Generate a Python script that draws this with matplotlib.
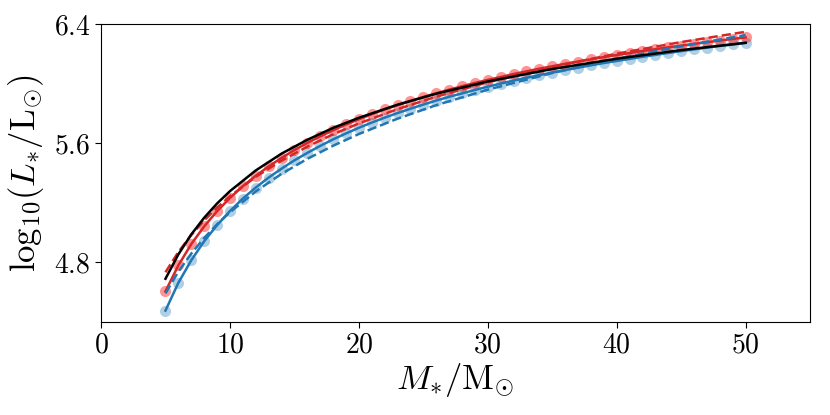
import numpy as np
import matplotlib
matplotlib.use("Agg")
import matplotlib.pyplot as plt

plt.rcParams['font.family'] = 'serif'
plt.rcParams['font.serif'] = ['cmr10']
plt.rcParams['mathtext.fontset'] = 'cm'
plt.rcParams['axes.formatter.use_mathtext'] = True

# masses of the model grid (Msun)
mass = list(range(5, 51))

# model luminosities, log10(L/Lsun)
logL_blue = [4.474, 4.661, 4.812, 4.940, 5.048, 5.143, 5.227, 5.301, 5.368, 5.428,
             5.484, 5.534, 5.581, 5.625, 5.665, 5.703, 5.738, 5.771, 5.802, 5.831,
             5.859, 5.886, 5.911, 5.934, 5.957, 5.979, 6.000, 6.020, 6.039, 6.057,
             6.074, 6.091, 6.107, 6.123, 6.138, 6.152, 6.166, 6.180, 6.193, 6.206,
             6.218, 6.230, 6.242, 6.253, 6.263, 6.274]
logL_red = [4.604, 4.778, 4.921, 5.040, 5.142, 5.231, 5.310, 5.380, 5.443, 5.500,
            5.553, 5.601, 5.645, 5.686, 5.725, 5.760, 5.794, 5.826, 5.855, 5.883,
            5.910, 5.935, 5.959, 5.982, 6.004, 6.025, 6.044, 6.064, 6.082, 6.100,
            6.116, 6.133, 6.148, 6.163, 6.178, 6.192, 6.205, 6.219, 6.231, 6.244,
            6.255, 6.267, 6.278, 6.289, 6.300, 6.310]

# fit relations evaluated on a coarser grid
mass_fit = [5, 6, 7, 8, 9, 10, 12, 14, 16, 18, 20, 23, 26, 30, 35, 40, 45, 50]
fit_black = [4.688, 4.852, 4.986, 5.098, 5.194, 5.277, 5.416, 5.529, 5.622, 5.702,
             5.770, 5.858, 5.932, 6.014, 6.098, 6.167, 6.225, 6.274]
fit_red_dash = [4.732, 4.868, 4.982, 5.080, 5.166, 5.242, 5.373, 5.482, 5.576, 5.659,
                5.732, 5.828, 5.912, 6.009, 6.112, 6.201, 6.279, 6.348]
fit_blue_dash = [4.590, 4.736, 4.857, 4.962, 5.054, 5.135, 5.275, 5.393, 5.494, 5.582,
                 5.661, 5.764, 5.855, 5.959, 6.071, 6.167, 6.251, 6.326]

fig, ax = plt.subplots(figsize=(8.3, 4.15), dpi=100)
fig.subplots_adjust(left=0.1217, right=0.976, top=0.942, bottom=0.225)

ax.plot(mass, logL_blue, 'o', color='tab:blue', alpha=0.35, ms=8, mec='none', zorder=1)
ax.plot(mass, logL_red, 'o', color='red', alpha=0.42, ms=8, mec='none', zorder=1)

ax.plot(mass, logL_blue, '-', color='tab:blue', lw=1.8, zorder=3)
ax.plot(mass, logL_red, '-', color='tab:red', lw=1.8, zorder=3)
ax.plot(mass_fit, fit_blue_dash, '--', color='tab:blue', lw=1.8, zorder=3)
ax.plot(mass_fit, fit_red_dash, '--', color='tab:red', lw=1.8, zorder=3)
ax.plot(mass_fit, fit_black, '-', color='black', lw=1.8, zorder=4)

ax.set_xlim(0, 55)
ax.set_ylim(4.4, 6.4)
ax.set_xticks([0, 10, 20, 30, 40, 50])
ax.set_yticks([4.8, 5.6, 6.4])
ax.tick_params(labelsize=20, length=4)
ax.set_xlabel(r'$M_{*}/\mathrm{M}_{\odot}$', fontsize=25, labelpad=2)
ax.set_ylabel(r'$\mathrm{log}_{10}(L_{*}/\mathrm{L}_{\odot})$', fontsize=25, labelpad=6)

plt.savefig('out.png', dpi=100)
